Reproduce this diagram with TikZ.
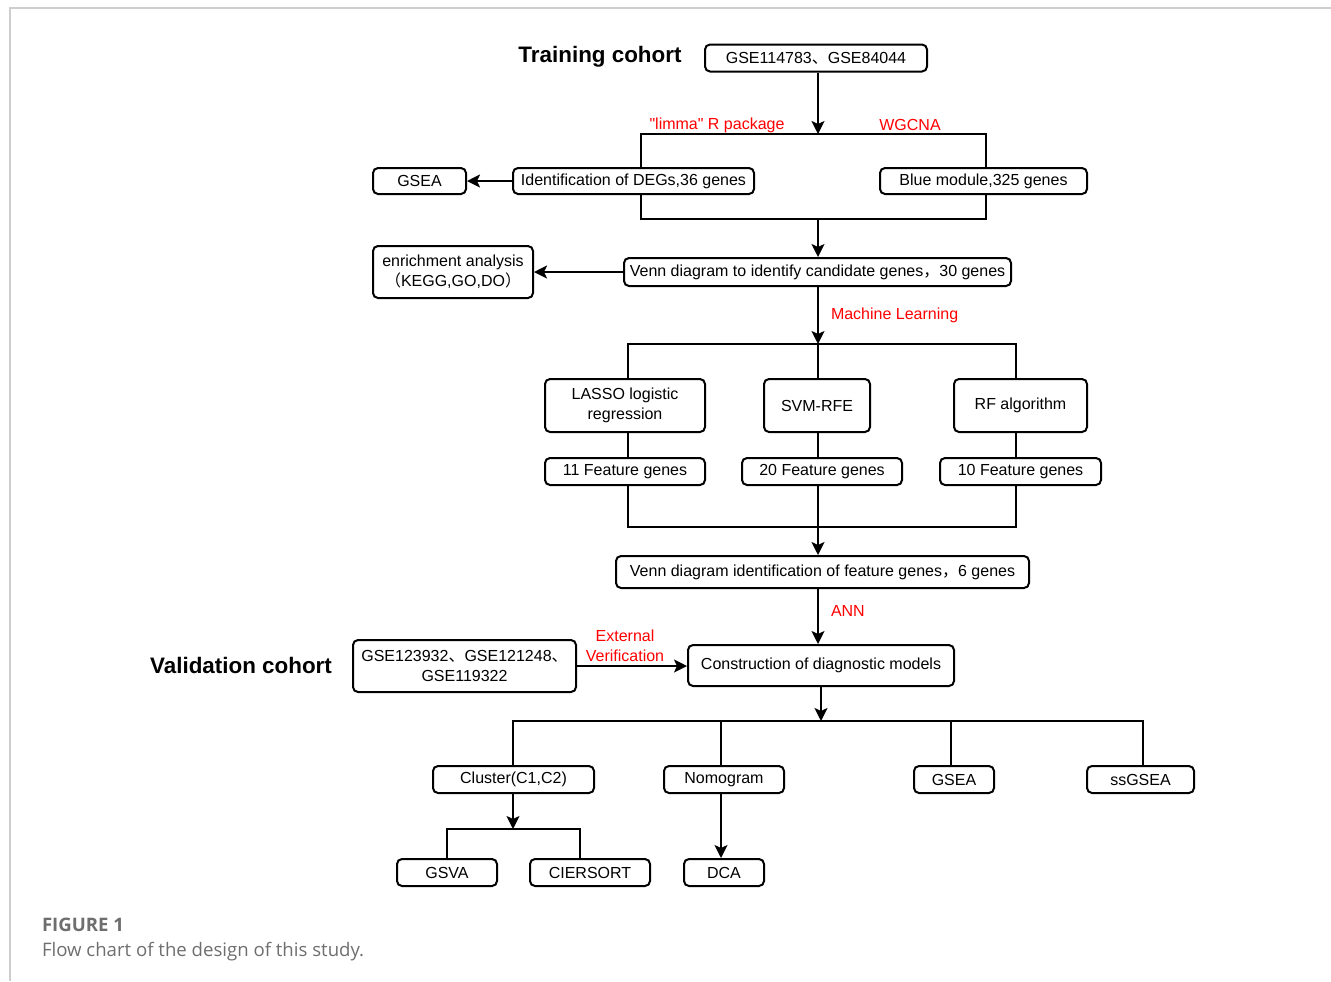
\documentclass[tikz,border=0pt]{standalone}
\usepackage{fontspec}
\setmainfont{Liberation Sans}
\newfontfamily\plainq{Liberation Sans}
\newfontfamily\cjk{Noto Sans CJK SC}
\newfontfamily\capfont{Open Sans}
\usetikzlibrary{positioning}
\usetikzlibrary{arrows.meta}
\definecolor{labelred}{RGB}{255,0,0}
\definecolor{framegray}{RGB}{205,205,205}
\definecolor{capgray}{RGB}{110,110,110}
\newcommand{\zhdun}{{\cjk 、}}
\newcommand{\zhcomma}{{\cjk ，}}
\tikzset{
flow/.style={
  x=0.5pt,y=-0.5pt,
  line width=1pt, % all lines about 2px
  >={Stealth[length=6.5pt,width=6.5pt,inset=1.5pt]}, % all arrows with stealth tip
},
my box/.style={draw,rounded corners=2.5pt,align=center,inner sep=0pt,font=\fontsize{8}{10}\selectfont},
wh/.style 2 args={minimum width=#1*0.5pt,minimum height=#2*0.5pt},
red label/.style={text=labelred,font=\fontsize{8}{10}\selectfont,inner sep=0pt},
cohort/.style={font=\fontsize{11.2}{13}\bfseries\selectfont,inner sep=0pt},
caption/.style={anchor=base west,inner sep=0pt,text=capgray},
}

\begin{document}
\begin{tikzpicture}[flow]
\useasboundingbox (0,0) rectangle (1331,981);
\draw[framegray] (10,981) -- (10,8) -- (1331,8);

% training cohort
\node[cohort] (traintxt) at (600,57) {Training cohort};
\node[my box,wh={222}{27}] (train) at (816,58) {GSE114783\zhdun GSE84044};
\node[my box,wh={241}{26}] (degs)  at (633.5,181) {Identification of DEGs,36 genes};
\node[my box,wh={207}{26}] (blue)  at (983.5,181) {Blue module,325 genes};
\node[my box,wh={93}{26}]  (gsea1) at (419.5,181) {GSEA};
\node[red label] (limma) at (717,125) {{\plainq"}limma{\plainq"} R package};
\node[red label] (wgcna) at (910,125) {WGCNA};
\node[my box,wh={387}{28}] (venn1)  at (817.5,272) {Venn diagram to identify candidate genes\zhcomma 30 genes};
\node[my box,wh={160}{52}] (enrich) at (453,272) {enrichment analysis\\{\cjk （}KEGG,GO,DO{\cjk ）}};
\coordinate (a1) at (818,134);
\coordinate (a2) at (818,219);
\coordinate (b1) at (641,134);
\coordinate (b2) at (986,134);
\coordinate (b3) at (641,219);
\coordinate (b4) at (986,219);
\draw[->] (train.south -| a1) -- (a1);
\draw (degs.north -| b1) -- (b1) -- (b2) -- (blue.north -| b2);
\draw (degs.south -| b3) -- (b3) -- (b4) -- (blue.south -| b4);
\draw[->] (degs.west) -- (gsea1.east);
\draw[->] (a2) -- (venn1.north -| a2);
\draw[->] (venn1.west) -- (enrich.east);

% machine learning
\node[red label,anchor=west] (ml) at (830,315) {Machine Learning};
\node[my box,wh={160}{53}] (lasso) at (625,405.5) {LASSO logistic\\regression};
\node[my box,wh={106}{53}] (svm)   at (817,405.5) {SVM-RFE};
\node[my box,wh={133}{53}] (rf)    at (1020.5,405.5) {RF algorithm};
\node[my box,wh={160}{27}] (f11)   at (625,471.5) {11 Feature genes};
\node[my box,wh={160}{27}] (f20)   at (822,471.5) {20 Feature genes};
\node[my box,wh={161}{27}] (f10)   at (1020.5,471.5) {10 Feature genes};
\coordinate (c1) at (818,344);
\coordinate (c2) at (628,344);
\coordinate (c3) at (1016,344);
\coordinate (d1) at (628,527);
\coordinate (d2) at (818,527);
\coordinate (d3) at (1016,527);
\draw[->] (venn1.south -| c1) -- (c1);
\draw (lasso.north -| c2) -- (c2) -- (c3) -- (rf.north -| c3);
\draw (c1) -- (svm.north -| c1);
\draw (lasso.south -| c2) -- (f11.north -| c2);
\draw (svm.south -| c1) -- (f20.north -| c1);
\draw (rf.south -| c3) -- (f10.north -| c3);
\draw (f11.south -| d1) -- (d1) -- (d3) -- (f10.south -| d3);
\draw (f20.south -| d2) -- (d2);

% diagnostic model
\node[my box,wh={413}{32}] (venn2) at (822.5,572) {Venn diagram identification of feature genes\zhcomma 6 genes};
\node[red label,anchor=west] (ann) at (830,611) {ANN};
\node[my box,wh={266}{41}] (model) at (821,665.5) {Construction of diagnostic models};
\node[my box,wh={223}{52}] (valid) at (464.5,666) {GSE123932\zhdun GSE121248\zhdun\\GSE119322};
\node[cohort] (validtxt) at (241,665) {Validation cohort};
\node[red label,align=center] (ext) at (625,646) {External\\Verification};
\draw[->] (d2) -- (venn2.north -| d2);
\draw[->] (venn2.south -| d2) -- (model.north -| d2);
\draw[->] (valid.east) -- (valid.east -| model.west);

% downstream analyses
\node[my box,wh={161}{27}] (cluster) at (513.5,779.5) {Cluster(C1,C2)};
\node[my box,wh={120}{27}] (nomo)    at (724,779.5) {Nomogram};
\node[my box,wh={80}{27}]  (gsea2)   at (954,779.5) {GSEA};
\node[my box,wh={107}{27}] (ssgsea)  at (1140.5,779.5) {ssGSEA};
\node[my box,wh={100}{27}] (gsva)    at (447,872.5) {GSVA};
\node[my box,wh={120}{27}] (cier)    at (590,872.5) {CIERSORT};
\node[my box,wh={80}{27}]  (dca)     at (724,872.5) {DCA};
\coordinate (e0) at (821,721);
\coordinate (e1) at (513,721);
\coordinate (e2) at (721,721);
\coordinate (e3) at (951,721);
\coordinate (e4) at (1143,721);
\coordinate (g0) at (513,829);
\coordinate (g1) at (447,829);
\coordinate (g2) at (580,829);
\draw[->] (model.south -| e0) -- (e0);
\draw (cluster.north -| e1) -- (e1) -- (e4) -- (ssgsea.north -| e4);
\draw (e2) -- (nomo.north -| e2);
\draw (e3) -- (gsea2.north -| e3);
\draw[->] (cluster.south -| g0) -- (g0);
\draw (gsva.north -| g1) -- (g1) -- (g2) -- (cier.north -| g2);
\draw[->] (nomo.south -| e2) -- (dca.north -| e2);

% caption
\node[caption,font=\capfont\fontsize{9.3}{11}\bfseries\selectfont] (figno) at (41,931) {FIGURE 1};
\node[caption,font=\capfont\fontsize{9.3}{11}\selectfont] (figtext) at (41,956) {Flow chart of the design of this study.};
\end{tikzpicture}
\end{document}
